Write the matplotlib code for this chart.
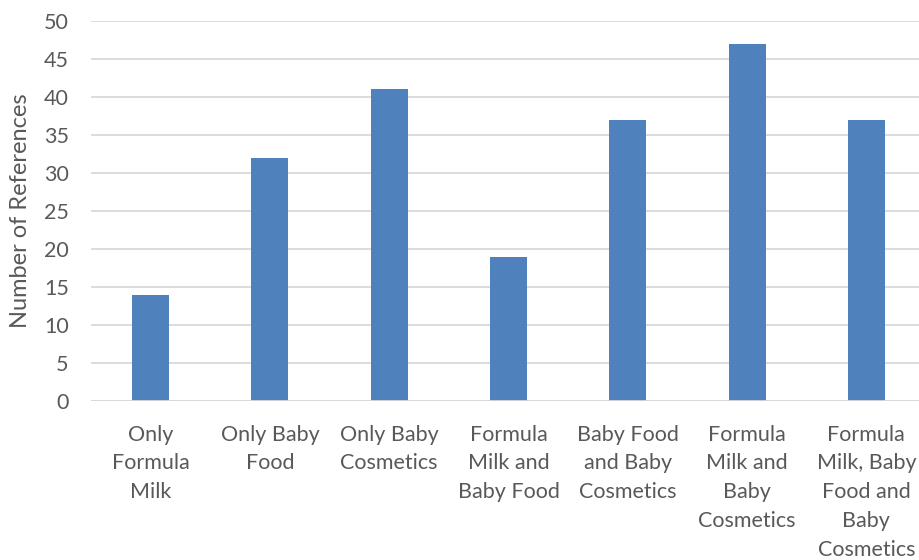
import matplotlib
matplotlib.use("Agg")
import matplotlib.pyplot as plt
import numpy as np

categories = [
    "Only\nFormula\nMilk",
    "Only Baby\nFood",
    "Only Baby\nCosmetics",
    "Formula\nMilk and\nBaby Food",
    "Baby Food\nand Baby\nCosmetics",
    "Formula\nMilk and\nBaby\nCosmetics",
    "Formula\nMilk, Baby\nFood and\nBaby\nCosmetics",
]
references = [14, 32, 41, 19, 37, 47, 37]
y_ticks = [0, 5, 10, 15, 20, 25, 30, 35, 40, 45, 50]

plt.rcParams["font.family"] = ["Lato", "DejaVu Sans"]

W, H = 919, 560
fig = plt.figure(figsize=(W / 100, H / 100), dpi=100)
left, right = 91, 926
bottom, top = 401, 21
ax = fig.add_axes([left / W, 1 - bottom / H, (right - left) / W, (bottom - top) / H])

x = np.arange(len(categories))
ax.bar(x, references, width=0.31, color="#4F81BD", zorder=3)

ax.set_xlim(-0.5, len(categories) - 0.5)
ax.set_ylim(0, 50)
ax.set_yticks(y_ticks)
ax.set_xticks(x)
ax.set_xticklabels(categories, linespacing=1.55)

for s in ax.spines.values():
    s.set_visible(False)
ax.yaxis.grid(True, color="#D9D9D9", linewidth=1.3, zorder=0)
ax.axhline(0, color="#D9D9D9", linewidth=1.3, zorder=4)
ax.tick_params(axis="both", length=0, labelsize=15.5, labelcolor="#595959")
ax.tick_params(axis="y", pad=16)
ax.tick_params(axis="x", pad=17)
ax.set_ylabel("Number of References", fontsize=17, color="#595959", labelpad=9)

fig.savefig("out.png", dpi=100)
